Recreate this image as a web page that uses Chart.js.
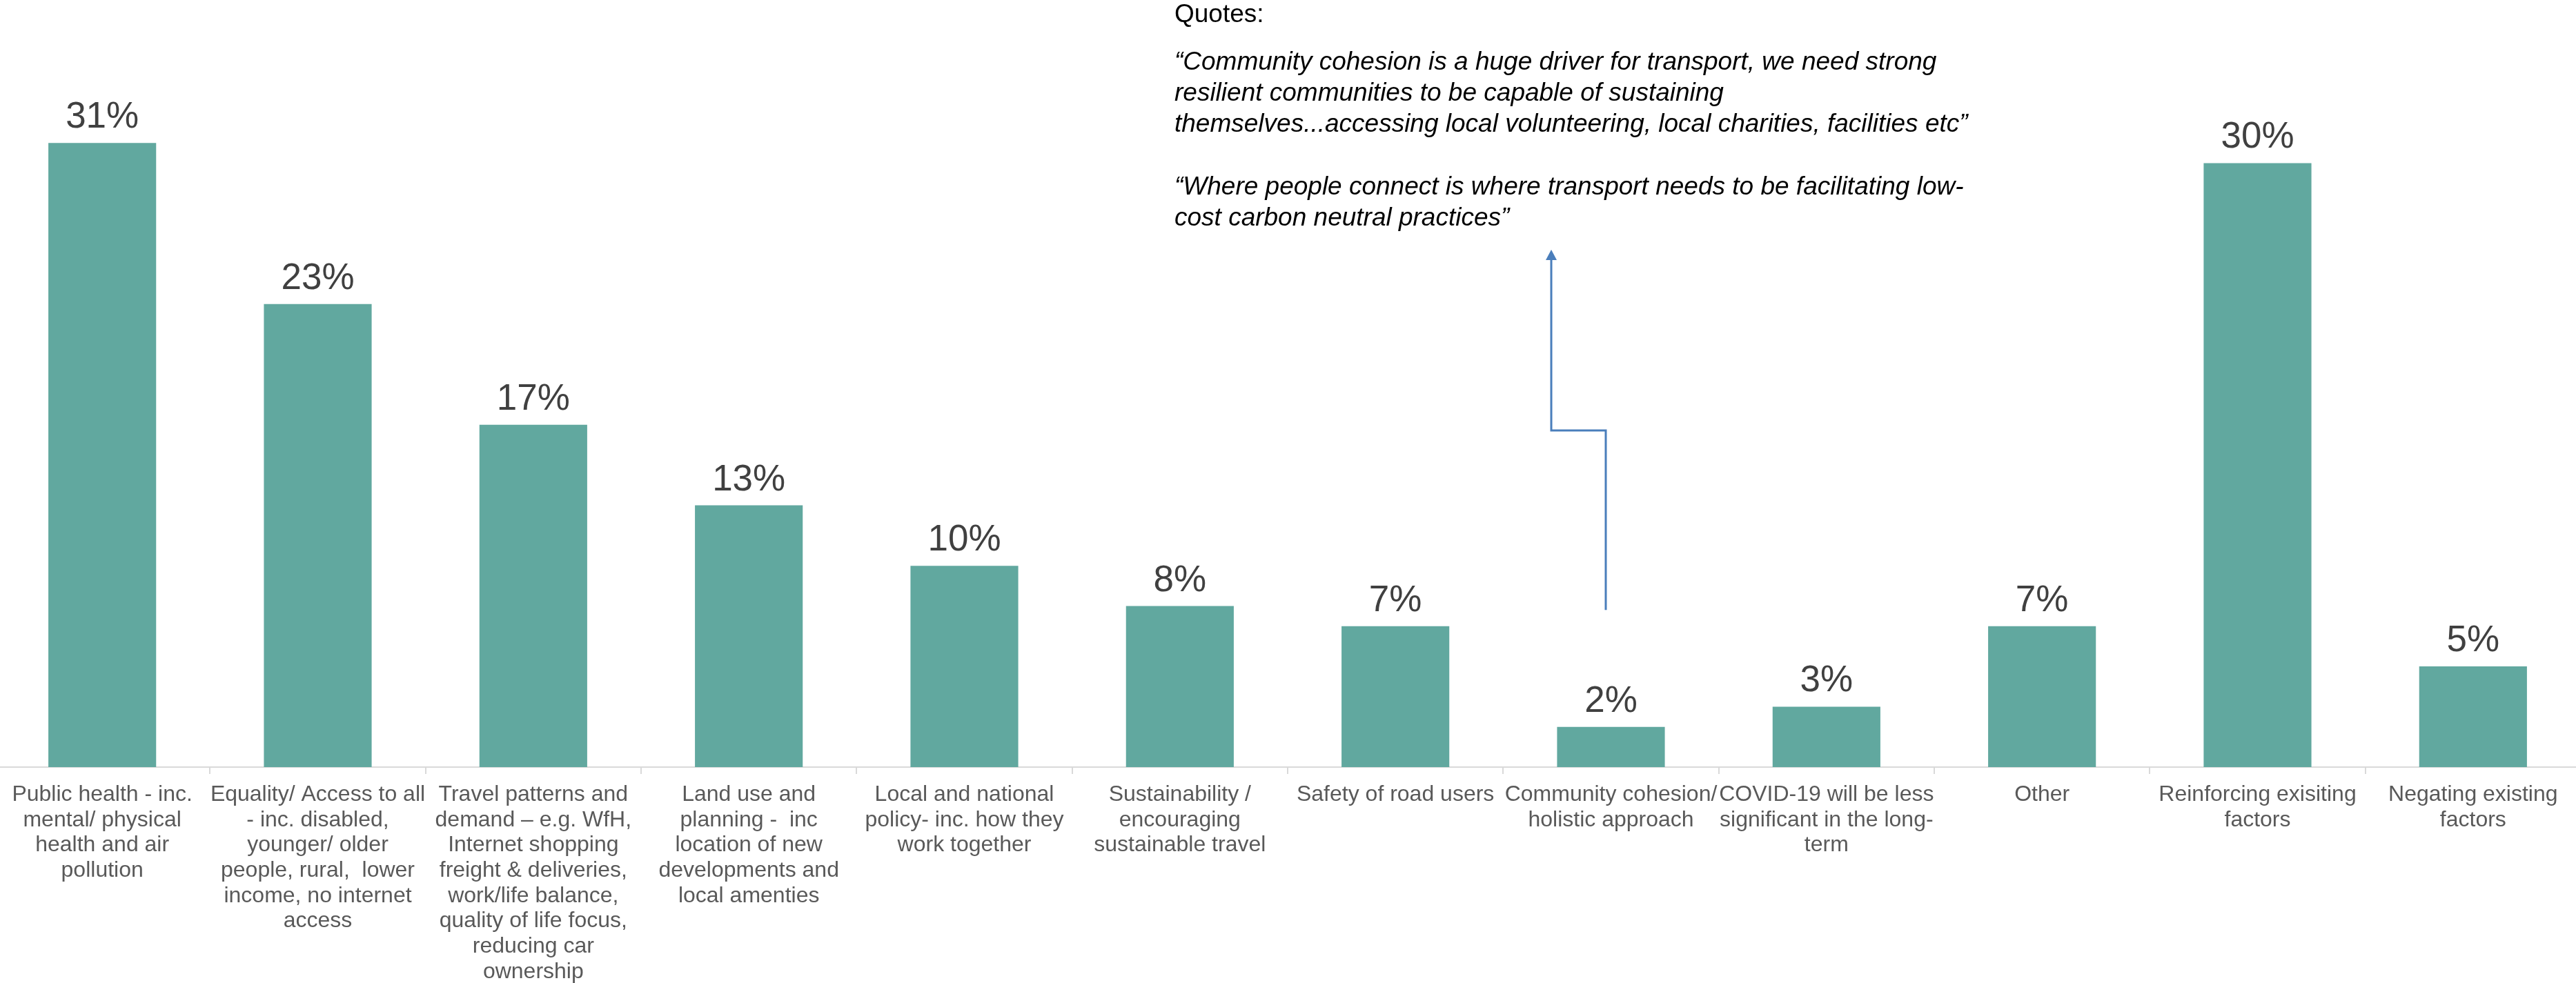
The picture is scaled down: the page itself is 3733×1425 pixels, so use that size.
<!DOCTYPE html>
<html>
<head>
<meta charset="utf-8">
<title>Factors influencing future transport</title>
<script src="https://cdn.jsdelivr.net/npm/chart.js@4.4.1/dist/chart.umd.min.js"></script>
<style>
  html, body { margin: 0; padding: 0; background: #ffffff; width: 3733px; height: 1425px; overflow: hidden; }
  #wrap { position: absolute; left: -8px; top: 0; width: 3748px; height: 1425px; }
</style>
</head>
<body>
<div id="wrap"><canvas id="chart"></canvas></div>
<script>
// Categories (each entry is the wrapped axis label, one string per line)
const categories = [
  ['Public health - inc.', 'mental/ physical', 'health and air', 'pollution'],
  ['Equality/ Access to all', '- inc. disabled,', 'younger/ older', 'people, rural,  lower', 'income, no internet', 'access'],
  ['Travel patterns and', 'demand \u2013 e.g. WfH,', 'Internet shopping', 'freight & deliveries,', 'work/life balance,', 'quality of life focus,', 'reducing car', 'ownership'],
  ['Land use and', 'planning -  inc', 'location of new', 'developments and', 'local amenties'],
  ['Local and national', 'policy- inc. how they', 'work together'],
  ['Sustainability /', 'encouraging', 'sustainable travel'],
  ['Safety of road users'],
  ['Community cohesion/', 'holistic approach'],
  ['COVID-19 will be less', 'significant in the long-', 'term'],
  ['Other'],
  ['Reinforcing exisiting', 'factors'],
  ['Negating existing', 'factors']
];

// Share of responses mentioning each factor (%)
const shares = [31, 23, 17, 13, 10, 8, 7, 2, 3, 7, 30, 5];

// Quote box text
const quoteHeading = 'Quotes:';
const quoteOne = [
  '\u201CCommunity cohesion is a huge driver for transport, we need strong',
  'resilient communities to be capable of sustaining',
  'themselves...accessing local volunteering, local charities, facilities etc\u201D'
];
const quoteTwo = [
  '\u201CWhere people connect is where transport needs to be facilitating low-',
  'cost carbon neutral practices\u201D'
];

// Index of the category the quotes refer to
const quotedCategory = 7;

const FONT = '"Liberation Sans", Arial, Helvetica, sans-serif';
const SHIFT = 8; // canvas sits 8px left of the page edge

// Value labels above each bar
const barValueLabels = {
  id: 'barValueLabels',
  afterDatasetsDraw(chart) {
    const ctx = chart.ctx;
    const meta = chart.getDatasetMeta(0);
    ctx.save();
    ctx.font = '53px ' + FONT;
    ctx.fillStyle = '#404040';
    ctx.textAlign = 'center';
    ctx.textBaseline = 'alphabetic';
    meta.data.forEach((bar, i) => {
      ctx.fillText(shares[i] + '%', bar.x, bar.y - 22);
    });
    ctx.restore();
  }
};

// Quote text block and the elbow arrow linking it to its bar
const quoteCallout = {
  id: 'quoteCallout',
  afterDraw(chart) {
    const ctx = chart.ctx;
    const left = 1702 + SHIFT;
    ctx.save();
    ctx.fillStyle = '#000000';
    ctx.textAlign = 'left';
    ctx.textBaseline = 'alphabetic';
    ctx.font = '37px ' + FONT;
    ctx.fillText(quoteHeading, left, 32);
    ctx.font = 'italic 37px ' + FONT;
    quoteOne.forEach((line, i) => ctx.fillText(line, left, 101 + i * 45));
    quoteTwo.forEach((line, i) => ctx.fillText(line, left, 282 + i * 45));

    // elbow connector
    const xs = chart.scales.x, ys = chart.scales.y;
    const bottomX = Math.round(xs.getPixelForValue(quotedCategory)) - 8;
    const bottomY = ys.getPixelForValue(7.8);
    const elbowY = 624;
    const upX = 2248 + SHIFT;
    const tipY = 362;
    ctx.strokeStyle = '#4a7ebb';
    ctx.fillStyle = '#4a7ebb';
    ctx.lineWidth = 3;
    ctx.lineJoin = 'miter';
    ctx.beginPath();
    ctx.moveTo(bottomX, bottomY);
    ctx.lineTo(bottomX, elbowY);
    ctx.lineTo(upX, elbowY);
    ctx.lineTo(upX, tipY + 12);
    ctx.stroke();
    ctx.beginPath();
    ctx.moveTo(upX, tipY);
    ctx.lineTo(upX - 8, tipY + 15);
    ctx.lineTo(upX + 8, tipY + 15);
    ctx.closePath();
    ctx.fill();
    ctx.restore();
  }
};

new Chart(document.getElementById('chart'), {
  type: 'bar',
  data: {
    labels: categories,
    datasets: [{
      data: shares,
      backgroundColor: '#61a89f',
      borderWidth: 0,
      barPercentage: 0.5,
      categoryPercentage: 1.0
    }]
  },
  options: {
    responsive: true,
    maintainAspectRatio: false,
    animation: false,
    layout: { padding: { top: 3, left: 0, right: 0, bottom: 0 } },
    plugins: {
      legend: { display: false },
      tooltip: { enabled: false }
    },
    scales: {
      x: {
        offset: true,
        border: { display: true, color: '#d9d9d9', width: 2 },
        grid: {
          display: true,
          offset: true,
          drawOnChartArea: false,
          drawTicks: true,
          tickLength: 10,
          color: '#d9d9d9',
          lineWidth: 2
        },
        ticks: {
          autoSkip: false,
          maxRotation: 0,
          minRotation: 0,
          padding: 12,
          color: '#595959',
          font: { family: FONT, size: 32, lineHeight: 1.145 }
        },
        afterFit(scale) { scale.height = 313; }
      },
      y: {
        display: false,
        min: 0,
        max: 38
      }
    }
  },
  plugins: [barValueLabels, quoteCallout]
});
</script>
</body>
</html>
